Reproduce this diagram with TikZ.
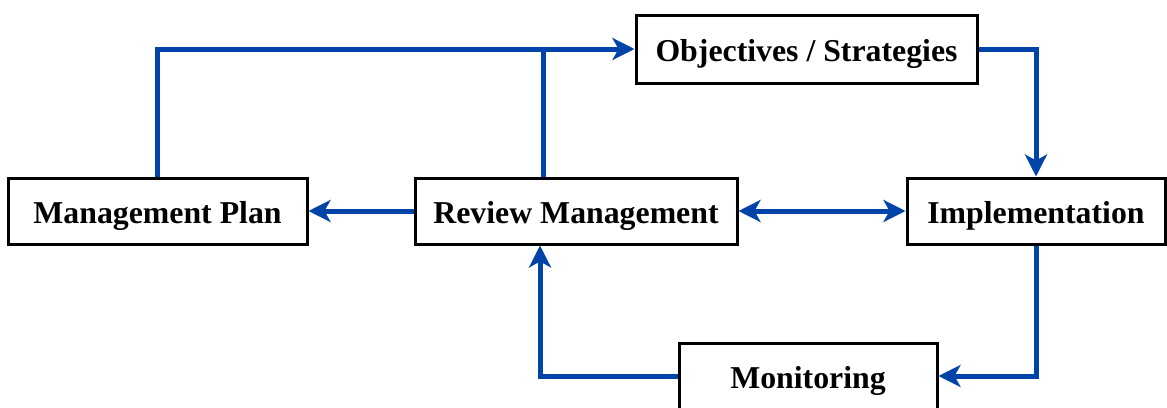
\documentclass[tikz,border=0pt]{standalone}
\usepackage{fontspec}
\setmainfont{Liberation Serif}
\usetikzlibrary{arrows.meta, positioning, calc}
\definecolor{cblue}{HTML}{0044AA}
\tikzset{
  every picture/.style={font=\bfseries\fontsize{15.9}{19}\selectfont},
  stagebox/.style={draw=black, fill=white, line width=1.5pt, inner sep=0pt, minimum height=33pt, text height=12.5pt, text depth=0pt},
  link/.style={draw=cblue, line width=2.5pt},
  arrow/.style={link, -{Stealth[length=11pt, width=11pt, inset=3pt]}},
  twoway/.style={link, {Stealth[length=11pt, width=11pt, inset=3pt]}-{Stealth[length=11pt, width=11pt, inset=3pt]}},
}

\begin{document}
\begin{tikzpicture}[x=0.5pt, y=-0.5pt]
  \useasboundingbox (0,0) rectangle (1167,407);
  % stages
  \node[stagebox, minimum width=170.5pt, minimum height=34pt] (obj) at (806.5,49) {Objectives / Strategies};
  \node[stagebox, minimum width=149.5pt] (plan) at (157.5,211) {Management Plan};
  \node[stagebox, minimum width=161pt] (review) at (576,211) {Review Management};
  \node[stagebox, minimum width=129pt] (impl) at (1036,211) {Implementation};
  \node[stagebox, minimum width=129pt] (mon) at (808,376) {Monitoring};
  % junctions
  \coordinate (topjoin) at (543,47);
  \coordinate (backup) at (540,380);
  % connectors
  \draw[arrow] (plan.north) |- (obj.west);
  \draw[link] (review.north -| topjoin) -- (topjoin);
  \draw[arrow] (obj.east) -| (impl.north);
  \draw[arrow] (review.west) -- (plan.east);
  \draw[twoway] (review.east) -- (impl.west);
  \draw[arrow] (impl.south) |- (mon.east);
  \draw[arrow] (mon.west) -| (review.south -| backup);
\end{tikzpicture}
\end{document}
